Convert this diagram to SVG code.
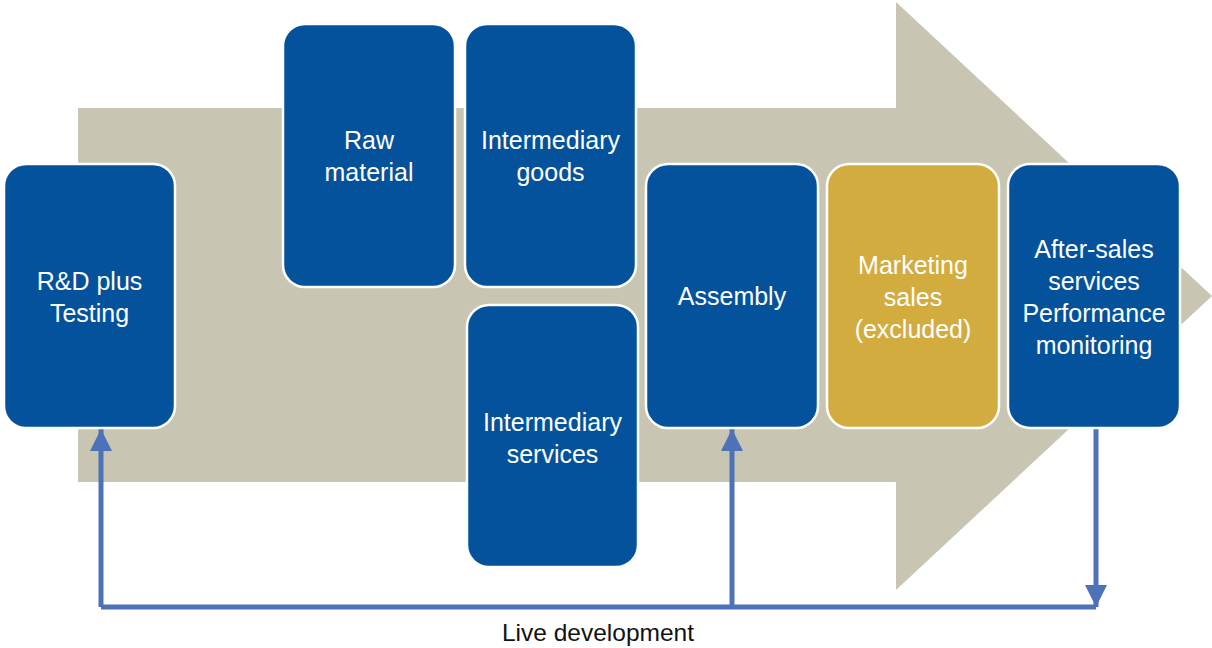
<svg xmlns="http://www.w3.org/2000/svg" width="1212" height="648" viewBox="0 0 1212 648">
<defs>
<style>
.box{fill:#03529B;stroke:#ffffff;stroke-width:2.5}
.gold{fill:#D2AC3F;stroke:#ffffff;stroke-width:2.5}
.lbl{font-family:"Liberation Sans",Arial,sans-serif;font-size:25px;fill:#ffffff;text-anchor:middle}
.conn{fill:none;stroke:#4E72B8;stroke-width:5}
.cap{font-family:"Liberation Sans",Arial,sans-serif;font-size:24.5px;fill:#111111;text-anchor:middle}
</style>
<marker id="ah" viewBox="0 0 10 10" refX="10" refY="5" markerWidth="4.4" markerHeight="4.4" markerUnits="strokeWidth" orient="auto">
<path d="M0,0 L10,5 L0,10 Z" fill="#4E72B8"/>
</marker>
</defs>
<rect width="1212" height="648" fill="#ffffff"/>
<path id="flow" d="M78,108 L896,108 L896,2 L1212,296 L896,590 L896,482 L78,482 Z" fill="#C8C6B3"/>
<g id="connectors">
<path class="conn" d="M101,607 L1096,607"/>
<path class="conn" d="M101,607 L101,429" marker-end="url(#ah)"/>
<path class="conn" d="M732,607 L732,429" marker-end="url(#ah)"/>
<path class="conn" d="M1096,428 L1096,607" marker-end="url(#ah)"/>
</g>
<g id="rnd">
<rect class="box" x="4" y="164" width="171" height="264" rx="22"/>
<text class="lbl" x="89.5" y="290">R&amp;D plus</text>
<text class="lbl" x="89.5" y="322">Testing</text>
</g>
<g id="raw">
<rect class="box" x="283" y="24" width="172" height="263" rx="22"/>
<text class="lbl" x="369" y="149">Raw</text>
<text class="lbl" x="369" y="181">material</text>
</g>
<g id="goods">
<rect class="box" x="465" y="24" width="171" height="263" rx="22"/>
<text class="lbl" x="550.5" y="149">Intermediary</text>
<text class="lbl" x="550.5" y="181">goods</text>
</g>
<g id="services">
<rect class="box" x="467" y="305" width="171" height="262" rx="22"/>
<text class="lbl" x="552.5" y="431">Intermediary</text>
<text class="lbl" x="552.5" y="463">services</text>
</g>
<g id="assembly">
<rect class="box" x="646" y="164" width="172" height="264" rx="22"/>
<text class="lbl" x="732" y="305">Assembly</text>
</g>
<g id="marketing">
<rect class="gold" x="827" y="164" width="172" height="264" rx="22"/>
<text class="lbl" x="913" y="274">Marketing</text>
<text class="lbl" x="913" y="306">sales</text>
<text class="lbl" x="913" y="338">(excluded)</text>
</g>
<g id="aftersales">
<rect class="box" x="1008" y="164" width="172" height="264" rx="22"/>
<text class="lbl" x="1094" y="258">After-sales</text>
<text class="lbl" x="1094" y="290">services</text>
<text class="lbl" x="1094" y="322">Performance</text>
<text class="lbl" x="1094" y="354">monitoring</text>
</g>
<text class="cap" x="598" y="641">Live development</text>
</svg>
